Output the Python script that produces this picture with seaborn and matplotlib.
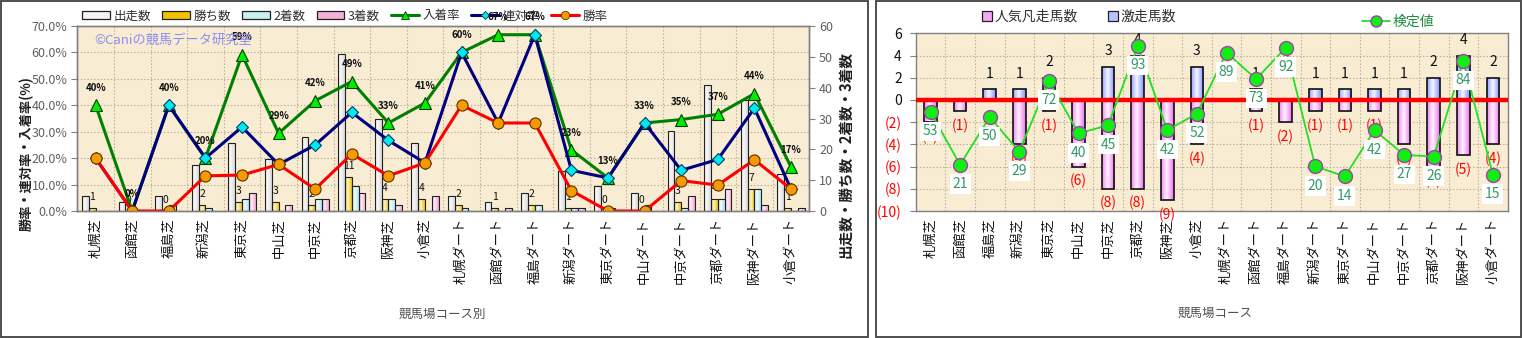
import numpy as np
import pandas as pd
import matplotlib
matplotlib.use("Agg")
import matplotlib.pyplot as plt
import seaborn as sns
from matplotlib.patches import Rectangle, Patch
from matplotlib.lines import Line2D

# ---- data -------------------------------------------------------------
courses = ["札幌芝", "函館芝", "福島芝", "新潟芝", "東京芝", "中山芝", "中京芝",
           "京都芝", "阪神芝", "小倉芝", "札幌ダート", "函館ダート", "福島ダート",
           "新潟ダート", "東京ダート", "中山ダート", "中京ダート", "京都ダート",
           "阪神ダート", "小倉ダート"]

starts  = [5, 3, 5, 15, 22, 17, 24, 51, 30, 22, 5, 3, 6, 13, 8, 6, 26, 41, 36, 12]
wins    = [1, 0, 0, 2, 3, 3, 2, 11, 4, 4, 2, 1, 2, 1, 0, 0, 3, 4, 7, 1]
seconds = [0, 0, 2, 1, 4, 0, 4, 8, 4, 0, 1, 0, 2, 1, 1, 2, 1, 4, 7, 0]
thirds  = [0, 0, 0, 0, 6, 2, 4, 6, 2, 5, 0, 1, 0, 1, 0, 0, 5, 7, 2, 1]

win_rate   = [20.0, 0.0, 0.0, 13.3, 13.6, 17.6, 8.3, 21.6, 13.3, 18.2,
              40.0, 33.3, 33.3, 7.7, 0.0, 0.0, 11.5, 9.8, 19.4, 8.3]
quin_rate  = [20.0, 0.0, 40.0, 20.0, 31.8, 17.6, 25.0, 37.3, 26.7, 18.2,
              60.0, 33.3, 66.7, 15.4, 12.5, 33.3, 15.4, 19.5, 38.9, 8.3]
place_rate = [40.0, 0.0, 40.0, 20.0, 59.1, 29.4, 41.7, 49.0, 33.3, 40.9,
              60.0, 66.7, 66.7, 23.1, 12.5, 33.3, 34.6, 36.6, 44.4, 16.7]

upset_runners = [0, 0, 1, 1, 2, 0, 3, 4, 0, 3, 0, 1, 0, 1, 1, 1, 1, 2, 4, 2]   # 激走馬数
flop_runners  = [2, 1, 0, 4, 1, 6, 8, 8, 9, 4, 0, 1, 2, 1, 1, 1, 4, 6, 5, 4]   # 人気凡走馬数
test_value    = [53, 21, 50, 29, 72, 40, 45, 93, 42, 52, 89, 73, 92, 20, 14,
                 42, 27, 26, 84, 15]                                            # 検定値

bar_names = ["出走数", "勝ち数", "2着数", "3着数"]
line_names = ["入着率", "連対率", "勝率"]

# ---- style --------------------------------------------------------------
sns.set_theme(style="white")
plt.rcParams["font.family"] = ["Noto Sans CJK JP", "DejaVu Sans"]

W, H = 1523, 338
fig = plt.figure(figsize=(W / 100, H / 100), dpi=100)
fig.patch.set_facecolor("white")


def box(x0, y0, x1, y1):
    """pixel box (top-left origin) -> figure-fraction rect"""
    return [x0 / W, 1 - y1 / H, (x1 - x0) / W, (y1 - y0) / H]


PLOT_BG = "#f8ecd3"
GRID_C = "#b5aa98"
GRID_LS = (0, (1.2, 1.8))


def gradient_fill(ax, patches, light=0.85, centre=0.4):
    """Replace flat bar fills by a horizontal sheen (edge colour -> pale -> edge colour)."""
    t = np.linspace(0, 1, 64)
    k = np.clip(np.abs(t - centre) / (1 - centre), 0, 1)
    for p in list(patches):
        h = p.get_height()
        if not np.isfinite(h) or h == 0:
            continue
        base = np.array(p.get_facecolor()[:3])
        pale = base * (1 - light) + light
        rgb = base[None, :] * k[:, None] + pale[None, :] * (1 - k[:, None])
        x0, y0, w = p.get_x(), p.get_y(), p.get_width()
        im = ax.imshow(rgb[None, :, :], extent=[x0, x0 + w, y0, y0 + h],
                       aspect="auto", interpolation="bilinear",
                       zorder=p.get_zorder() - 0.05)
        im.set_clip_path(p)
        p.set_facecolor("none")


# =====================================================================
# Left panel : counts (bars, right scale) + rates (lines, left scale)
# =====================================================================
axC = fig.add_axes(box(77.3, 26, 809.3, 211))
axC.set_facecolor(PLOT_BG)
axP = axC.twinx()
axP.patch.set_visible(False)

counts = pd.DataFrame({
    "course": courses * 4,
    "series": sum([[n] * len(courses) for n in bar_names], []),
    "value": starts + wins + seconds + thirds,
})
bar_colors = ["#d8d8d8", "#f2c200", "#aee8ee", "#f2a0d0"]
sns.barplot(data=counts, x="course", y="value", hue="series",
            order=courses, hue_order=bar_names, palette=bar_colors,
            width=0.74, gap=0, saturation=1, errorbar=None,
            edgecolor="#202020", linewidth=0.8, legend=False, ax=axC)
gradient_fill(axC, axC.patches, light=0.8)

for k in range(1, 7):
    axC.axhline(k * 60 / 7, color=GRID_C, lw=0.8, ls=GRID_LS, zorder=0.5)
for i in range(len(courses) - 1):
    axC.axvline(i + 0.5, color=GRID_C, lw=0.8, ls=GRID_LS, zorder=0.5)

# win-count labels above the 勝ち数 bars
for i, w in enumerate(wins):
    axC.annotate(str(w), (i - 0.0925, w), xytext=(0, 8),
                 textcoords="offset points", ha="center", va="center",
                 fontsize=7.5, color="#101010", zorder=4)

axC.set_xlim(-0.5, len(courses) - 0.5)
axC.set_ylim(0, 60)
axC.set_yticks(range(0, 61, 10))
axC.set_xticks(range(len(courses)))
axC.set_xticklabels(courses, rotation=90, fontsize=9.5, color="#101010")
axC.tick_params(axis="x", length=0, pad=5)
axC.set_xlabel("")
axC.set_ylabel("")

x = np.arange(len(courses))
sns.lineplot(x=x, y=place_rate, ax=axP, color="#008000", linewidth=2.2,
             marker="^", markersize=9, markerfacecolor="#00ee00",
             markeredgecolor="#004000", markeredgewidth=0.8, legend=False)
sns.lineplot(x=x, y=quin_rate, ax=axP, color="#000080", linewidth=2.2,
             marker="D", markersize=6.5, markerfacecolor="#00e8f0",
             markeredgecolor="#004060", markeredgewidth=0.8, legend=False)
sns.lineplot(x=x, y=win_rate, ax=axP, color="#ff0000", linewidth=2.2,
             marker="o", markersize=8, markerfacecolor="#f79a00",
             markeredgecolor="#603000", markeredgewidth=0.8, legend=False)
axP.set_xlim(-0.5, len(courses) - 0.5)
axP.set_ylim(0, 70)
axP.set_yticks(range(0, 71, 10))
axP.set_yticklabels([f"{v:.1f}%" for v in range(0, 71, 10)])
axP.set_ylabel("")

# counts on the right-hand scale, rates on the left-hand scale
axC.yaxis.set_ticks_position("right")
axC.tick_params(axis="y", left=False, right=True, labelleft=False,
                labelright=True, length=4, width=0.8, color="#808080",
                labelsize=9, labelcolor="#606060", pad=3)
axP.yaxis.set_ticks_position("left")
axP.tick_params(axis="y", left=True, right=False, labelleft=True,
                labelright=False, length=4, width=0.8, color="#808080",
                labelsize=9, labelcolor="#606060", pad=3)

for sp in list(axC.spines.values()) + list(axP.spines.values()):
    sp.set_color("#808080")
    sp.set_linewidth(1.0)

handles = [Patch(facecolor=c, edgecolor="#202020", linewidth=0.9) for c in
           ["#f4f4f4", "#f2c200", "#c8f0f2", "#f4b0d8"]]
handles += [
    Line2D([0], [0], color="#008000", lw=2.2, marker="^", ms=6,
           mfc="#00ee00", mec="#004000", mew=0.6),
    Line2D([0], [0], color="#000080", lw=2.2, marker="D", ms=4.5,
           mfc="#00e8f0", mec="#004060", mew=0.6),
    Line2D([0], [0], color="#ff0000", lw=2.2, marker="o", ms=6,
           mfc="#f79a00", mec="#603000", mew=0.6),
]
leg = axP.legend(handles, bar_names + line_names, loc="center left",
                 bbox_to_anchor=(82 / W, 1 - 16 / H),
                 bbox_transform=fig.transFigure, ncol=7, frameon=False,
                 fontsize=9, handlelength=2.2, handleheight=0.6,
                 handletextpad=0.3, columnspacing=0.9, borderpad=0,
                 borderaxespad=0)
for t in leg.get_texts():
    t.set_color("#303030")

# place-rate labels (drawn last so they sit over everything)
for i, v in enumerate(place_rate):
    axP.annotate(f"{int(v + 0.5)}%", (i, v), xytext=(0, 12.5),
                 textcoords="offset points", ha="center", va="center",
                 fontsize=7, fontweight="bold", color="#101010",
                 zorder=12, annotation_clip=False)

fig.text(94 / W, 1 - 40 / H, "©Caniの競馬データ研究室", color="#8c8cf2",
         fontsize=9.5, ha="left", va="center")
fig.text(27 / W, 1 - 154 / H, "勝率・連対率・入着率(%)", rotation=90,
         ha="center", va="center", fontsize=9.5, fontweight="bold",
         color="#202020")
fig.text(845 / W, 1 - 155 / H, "出走数・勝ち数・2着数・3着数", rotation=90,
         ha="center", va="center", fontsize=10.5, fontweight="bold",
         color="#202020")
fig.text(442 / W, 1 - 314 / H, "競馬場コース別", ha="center", va="center",
         fontsize=9, color="#505050")

# =====================================================================
# Right panel : upset / flop runners + test value
# =====================================================================
axB = fig.add_axes(box(915.7, 33.3, 1507.7, 211))
axB.set_facecolor(PLOT_BG)

sns.barplot(x=courses, y=upset_runners, order=courses, color="#7f90ff",
            width=0.43, saturation=1, errorbar=None, edgecolor="#101010",
            linewidth=1.2, ax=axB)
sns.barplot(x=courses, y=[-v for v in flop_runners], order=courses,
            color="#f070f0", width=0.43, saturation=1, errorbar=None,
            edgecolor="#101010", linewidth=1.2, ax=axB)
gradient_fill(axB, axB.patches, light=0.92, centre=0.45)

for v in range(-8, 6, 2):
    if v != 0:
        axB.axhline(v, color=GRID_C, lw=0.8, ls=GRID_LS, zorder=0.5)
for i in range(len(courses) - 1):
    axB.axvline(i + 0.5, color=GRID_C, lw=0.8, ls=GRID_LS, zorder=0.5)
axB.axhline(0, color="#ff0000", lw=3.2, zorder=3)

for i, (g, b) in enumerate(zip(upset_runners, flop_runners)):
    if g > 0:
        axB.annotate(str(g), (i, g), xytext=(0, 11), textcoords="offset points",
                     ha="center", va="center", fontsize=10, color="#101010",
                     zorder=4)
    if b > 0:
        axB.annotate(f"({b})", (i, -b), xytext=(0, -10.5),
                     textcoords="offset points", ha="center", va="center",
                     fontsize=10, color="#ff0000", zorder=4)

axB.set_xlim(-0.5, len(courses) - 0.5)
axB.set_ylim(-10, 6)
yt = list(range(-10, 7, 2))
axB.set_yticks(yt)
axB.set_yticklabels([str(v) if v >= 0 else f"({-v})" for v in yt])
for lab, v in zip(axB.get_yticklabels(), yt):
    lab.set_color("#ff0000" if v < 0 else "#101010")
axB.tick_params(axis="y", left=True, length=4, width=0.8, color="#808080",
                labelsize=10, pad=6)
axB.set_xticks(range(len(courses)))
axB.set_xticklabels(courses, rotation=90, fontsize=9.5, color="#101010")
axB.tick_params(axis="x", length=0, pad=5)
axB.set_xlabel("")
axB.set_ylabel("")
for sp in axB.spines.values():
    sp.set_color("#808080")
    sp.set_linewidth(1.0)

axK = axB.twinx()
axK.patch.set_visible(False)
sns.lineplot(x=x, y=test_value, ax=axK, color="#22e022", linewidth=1.3,
             marker="o", markersize=10, markerfacecolor="#11ee11",
             markeredgecolor="#a040b0", markeredgewidth=1.0, legend=False)
axK.set_xlim(-0.5, len(courses) - 0.5)
axK.set_ylim(-7, 100.7)
axK.set_yticks([])
axK.set_ylabel("")
for sp in axK.spines.values():
    sp.set_visible(False)
axB.yaxis.set_ticks_position("left")
axB.tick_params(axis="y", left=True, labelleft=True, right=False,
                labelright=False)
for i, v in enumerate(test_value):
    axK.annotate(str(v), (i, v), xytext=(0, -14), textcoords="offset points",
                 ha="center", va="center", fontsize=10, color="#339966",
                 zorder=8,
                 bbox=dict(boxstyle="square,pad=0.2", fc="white", ec="none"))

legB = axK.legend([Patch(facecolor="#f4a8f4", edgecolor="#202020", lw=0.9),
                   Patch(facecolor="#b8c4ff", edgecolor="#202020", lw=0.9)],
                  ["人気凡走馬数", "激走馬数"], loc="center left",
                  bbox_to_anchor=(982 / W, 1 - 17 / H),
                  bbox_transform=fig.transFigure, ncol=2, frameon=False,
                  fontsize=10, handlelength=0.7, handleheight=0.7,
                  handletextpad=0.2, columnspacing=2.2, borderpad=0,
                  borderaxespad=0)
for t in legB.get_texts():
    t.set_color("#303030")
axK.add_artist(legB)
legK = axK.legend([Line2D([0], [0], color="#22e022", lw=1.3, marker="o", ms=8,
                          mfc="#11ee11", mec="#a040b0", mew=1.0)],
                  ["検定値"], loc="center left",
                  bbox_to_anchor=(1362 / W, 1 - 22 / H),
                  bbox_transform=fig.transFigure, frameon=False, fontsize=10,
                  handlelength=2.0, handletextpad=0.2, borderpad=0,
                  borderaxespad=0)
legK.get_texts()[0].set_color("#209040")

fig.text(1215 / W, 1 - 313 / H, "競馬場コース", ha="center", va="center",
         fontsize=9, color="#505050")

# panel frames
for x0, x1 in [(1, 868), (876, 1521)]:
    fig.add_artist(Rectangle((x0 / W, 1 / H), (x1 - x0) / W, (H - 2) / H,
                             transform=fig.transFigure, fill=False,
                             edgecolor="#404040", linewidth=1.3))

fig.savefig("out.png", dpi=100)
